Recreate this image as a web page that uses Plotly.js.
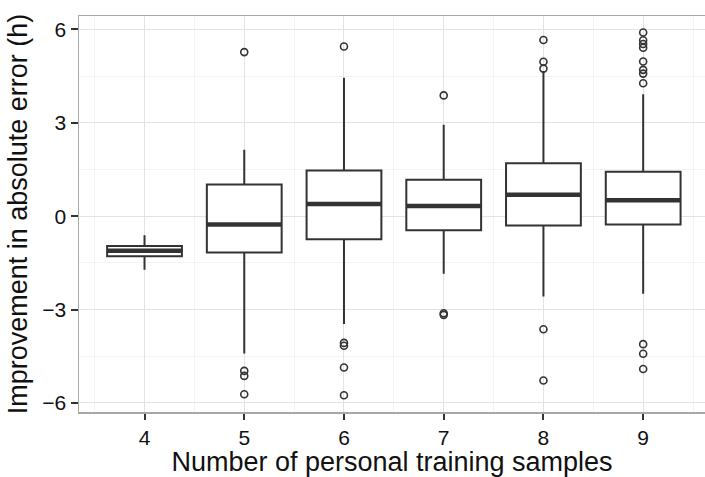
<!DOCTYPE html>
<html>
<head>
<meta charset="utf-8">
<script src="https://cdn.plot.ly/plotly-3.0.1.min.js"></script>
<style>html,body{margin:0;padding:0;background:#fff;}#chart{width:705px;height:477px;}</style>
</head>
<body>
<div id="chart"></div>
<script>
// Number of personal training samples
const categories = [4, 5, 6, 7, 8, 9];
const q1Values = [-1.29, -1.17, -0.74, -0.45, -0.30, -0.27];
const medianValues = [-1.11, -0.27, 0.39, 0.33, 0.69, 0.51];
const q3Values = [-0.96, 1.02, 1.47, 1.17, 1.70, 1.43];
const lowerWhisker = [-1.72, -4.41, -3.46, -1.85, -2.58, -2.49];
const upperWhisker = [-0.61, 2.13, 4.45, 2.94, 4.66, 3.92];
// outliers per category
const outliers4 = [];
const outliers5 = [5.27, -4.97, -5.13, -5.72];
const outliers6 = [5.45, -4.07, -4.16, -4.86, -5.75];
const outliers7 = [3.88, -3.12, -3.17];
const outliers8 = [5.66, 4.96, 4.74, -3.63, -5.28];
const outliers9 = [5.90, 5.65, 5.53, 5.41, 4.97, 4.70, 4.58, 4.27, -4.11, -4.42, -4.91];
const xTickLabels = ['4', '5', '6', '7', '8', '9'];
const yTickValues = [-6, -3, 0, 3, 6];
const yTickLabels = ['\u22126', '\u22123', '0', '3', '6'];

const BOX_W = 0.75;
const INK = '#333333';

const outlierGroups = [outliers4, outliers5, outliers6, outliers7, outliers8, outliers9];
const ox = [], oy = [];
outlierGroups.forEach((g, i) => g.forEach(v => { ox.push(categories[i]); oy.push(v); }));

const mx = [], my = [];
categories.forEach((c, i) => {
  mx.push(c - BOX_W / 2, c + BOX_W / 2, null);
  my.push(medianValues[i], medianValues[i], null);
});

const data = [
  {
    type: 'box',
    x: categories,
    q1: q1Values,
    median: medianValues,
    q3: q3Values,
    lowerfence: lowerWhisker,
    upperfence: upperWhisker,
    width: BOX_W,
    whiskerwidth: 0,
    boxpoints: false,
    fillcolor: '#ffffff',
    line: {color: INK, width: 2},
    hoverinfo: 'skip',
    showlegend: false
  },
  {
    type: 'scatter',
    mode: 'lines',
    x: mx,
    y: my,
    line: {color: INK, width: 4.5},
    hoverinfo: 'skip',
    showlegend: false
  },
  {
    type: 'scatter',
    mode: 'markers',
    x: ox,
    y: oy,
    marker: {symbol: 'circle-open', size: 7, color: INK, line: {width: 1.6, color: INK}},
    hoverinfo: 'skip',
    showlegend: false
  }
];

const layout = {
  width: 705,
  height: 477,
  margin: {l: 79, r: 0, t: 16, b: 65},
  paper_bgcolor: '#ffffff',
  plot_bgcolor: '#ffffff',
  font: {family: 'Liberation Sans, Arial, sans-serif', color: '#111111'},
  showlegend: false,
  xaxis: {
    range: [3.343, 9.62],
    tickmode: 'array',
    tickvals: categories,
    ticktext: xTickLabels,
    ticks: 'outside',
    ticklen: 6,
    tickwidth: 2,
    tickcolor: INK,
    tickfont: {size: 21, color: '#111111'},
    showgrid: true,
    gridcolor: '#e3e3e3',
    gridwidth: 1,
    minor: {dtick: 0.5, tick0: 3.5, showgrid: true, gridcolor: '#f3f3f3', gridwidth: 1, ticks: ''},
    zeroline: false,
    showline: true,
    mirror: true,
    linecolor: '#a8a8a8',
    linewidth: 1.5,
    title: {text: 'Number of personal training samples', font: {size: 27, color: '#111111'}, standoff: 5}
  },
  yaxis: {
    range: [-6.29, 6.43],
    tickmode: 'array',
    tickvals: yTickValues,
    ticktext: yTickLabels,
    ticks: 'outside',
    ticklen: 7,
    tickwidth: 2,
    tickcolor: INK,
    tickfont: {size: 21, color: '#111111'},
    showgrid: true,
    gridcolor: '#e3e3e3',
    gridwidth: 1,
    minor: {dtick: 1.5, tick0: 0, showgrid: true, gridcolor: '#f3f3f3', gridwidth: 1, ticks: ''},
    zeroline: false,
    showline: true,
    mirror: true,
    linecolor: '#a8a8a8',
    linewidth: 1.5,
    title: {text: 'Improvement in absolute error (h)', font: {size: 27, color: '#111111'}, standoff: 7}
  }
};

Plotly.newPlot('chart', data, layout, {staticPlot: true, displayModeBar: false});
</script>
</body>
</html>
